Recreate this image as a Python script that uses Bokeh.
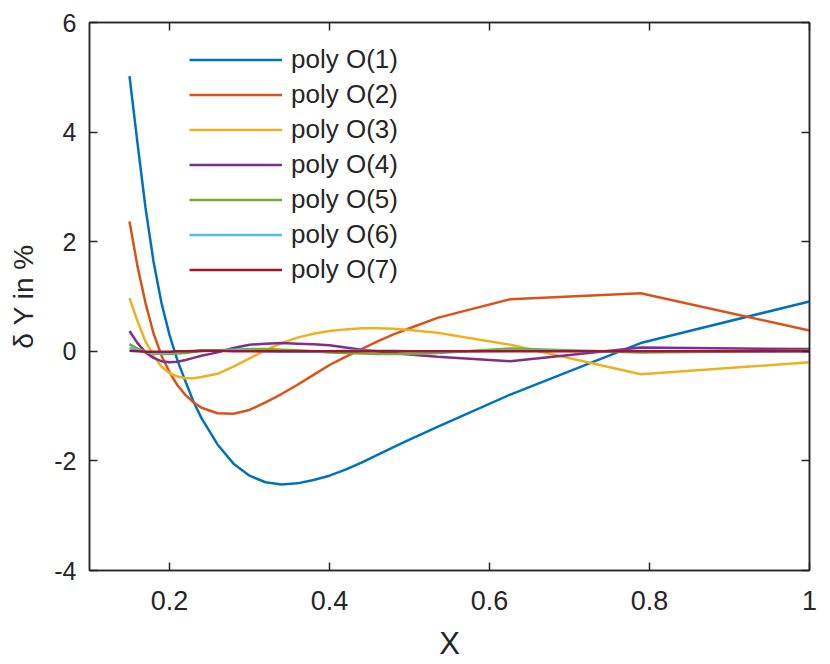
from bokeh.plotting import figure
from bokeh.models import (Legend, LegendItem, LinearAxis, FixedTicker,
                          CustomJSTickFormatter, Range1d)
from bokeh.embed import file_html
from bokeh.resources import INLINE

# ---- data ----
x = [0.15, 0.16, 0.17, 0.18, 0.19, 0.20, 0.21, 0.22, 0.23, 0.24, 0.26, 0.28,
     0.30, 0.32, 0.34, 0.36, 0.38, 0.40, 0.42, 0.44, 0.46, 0.48, 0.50, 0.535,
     0.626, 0.789, 1.0]

poly1 = [5.02, 3.80, 2.62, 1.64, 0.88, 0.30, -0.17, -0.55, -0.92, -1.22, -1.70,
         -2.05, -2.27, -2.39, -2.43, -2.41, -2.35, -2.27, -2.16, -2.03, -1.89,
         -1.75, -1.61, -1.38, -0.79, 0.15, 0.91]
poly2 = [2.37, 1.55, 0.88, 0.33, -0.08, -0.38, -0.62, -0.80, -0.93, -1.03, -1.13,
         -1.14, -1.07, -0.93, -0.78, -0.61, -0.43, -0.25, -0.10, 0.04, 0.18,
         0.31, 0.42, 0.61, 0.95, 1.06, 0.38]
poly3 = [0.97, 0.55, 0.18, -0.08, -0.28, -0.40, -0.46, -0.49, -0.49, -0.47, -0.41,
         -0.28, -0.13, 0.02, 0.15, 0.25, 0.32, 0.37, 0.40, 0.42, 0.42, 0.41,
         0.39, 0.34, 0.12, -0.42, -0.20]
poly4 = [0.37, 0.15, -0.02, -0.12, -0.18, -0.20, -0.19, -0.16, -0.12, -0.08, -0.02,
         0.06, 0.12, 0.14, 0.15, 0.14, 0.13, 0.11, 0.07, 0.03, 0.00, -0.03,
         -0.06, -0.10, -0.18, 0.07, 0.04]
poly5 = [0.13, 0.05, -0.01, -0.04, -0.05, -0.05, -0.04, -0.03, -0.01, 0.00, 0.02,
         0.03, 0.04, 0.04, 0.03, 0.02, 0.00, -0.02, -0.03, -0.04, -0.05, -0.05,
         -0.05, -0.03, 0.05, -0.02, 0.01]
poly6 = [0.07, 0.02, -0.01, -0.03, -0.03, -0.02, -0.01, 0.00, 0.01, 0.02, 0.02,
         0.02, 0.01, 0.00, -0.01, -0.01, -0.01, 0.00, 0.01, 0.01, 0.01, 0.01,
         0.00, -0.01, 0.01, 0.00, 0.00]
poly7 = [0.01, 0.00, -0.01, -0.01, -0.01, -0.01, 0.00, 0.00, 0.00, 0.01, 0.01,
         0.00, 0.00, 0.00, 0.00, 0.00, 0.00, 0.00, 0.00, 0.00, 0.00, 0.00,
         0.00, 0.00, 0.00, 0.00, 0.00]

labels = ["poly O(1)", "poly O(2)", "poly O(3)", "poly O(4)",
          "poly O(5)", "poly O(6)", "poly O(7)"]
series = [poly1, poly2, poly3, poly4, poly5, poly6, poly7]
colors = ["#0072BD", "#D95319", "#EDB120", "#7E2F8E",
          "#77AC30", "#4DBEEE", "#A2142F"]

x_ticks = [0.2, 0.4, 0.6, 0.8, 1.0]
y_ticks = [-4, -2, 0, 2, 4, 6]

FONT = "Liberation Sans"
TXT = "#262626"

p = figure(width=822, height=664, output_backend="svg", toolbar_location=None,
           x_range=Range1d(0.1, 1.0), y_range=Range1d(-4, 6),
           min_border_left=89, min_border_right=13,
           min_border_top=22, min_border_bottom=94,
           x_axis_label="X", y_axis_label="δ Y in %")
p.grid.visible = False
p.outline_line_color = TXT
p.outline_line_width = 1.5
p.background_fill_color = "white"
p.border_fill_color = "white"

fmt = CustomJSTickFormatter(code="return tick.toFixed(1).replace(/\\.0$/, '');")
blank = CustomJSTickFormatter(code="return '';")

renderers = []
for ys, c in zip(series, colors):
    r = p.line(x, ys, line_color=c, line_width=2.5)
    renderers.append(r)

def style_axis(ax, ticks, show_labels):
    ax.ticker = FixedTicker(ticks=ticks)
    ax.formatter = fmt if show_labels else blank
    ax.major_tick_in = 8
    ax.major_tick_out = 0
    ax.minor_tick_in = 0
    ax.minor_tick_out = 0
    ax.axis_line_color = TXT
    ax.axis_line_width = 1.5
    ax.major_tick_line_color = TXT
    ax.major_tick_line_width = 1.5
    ax.major_label_text_color = TXT
    ax.major_label_text_font = FONT
    ax.axis_label_text_font = FONT
    ax.axis_label_text_color = TXT
    ax.axis_label_text_font_style = "normal"
    if not show_labels:
        ax.major_label_standoff = 0

xa = p.xaxis[0]
style_axis(xa, x_ticks, True)
xa.major_label_text_font_size = "27px"
xa.major_label_standoff = 20
xa.axis_label_text_font_size = "31px"
xa.axis_label_standoff = 13

ya = p.yaxis[0]
style_axis(ya, y_ticks, True)
ya.major_label_text_font_size = "25px"
ya.major_label_standoff = 13
ya.axis_label_text_font_size = "28px"
ya.axis_label_standoff = 12

top = LinearAxis()
style_axis(top, x_ticks, False)
p.add_layout(top, "above")
right = LinearAxis()
style_axis(right, y_ticks, False)
p.add_layout(right, "right")

items = [LegendItem(label=l, renderers=[r]) for l, r in zip(labels, renderers)]
legend = Legend(items=items, location=(100, 283))
legend.border_line_color = None
legend.background_fill_color = "white"
legend.background_fill_alpha = 1.0
legend.label_text_font = FONT
legend.label_text_font_size = "26px"
legend.label_text_color = TXT
legend.glyph_width = 93
legend.glyph_height = 35
legend.label_height = 35
legend.label_standoff = 9
legend.spacing = 0
legend.padding = 10
legend.margin = 0
p.add_layout(legend, "center")

open("out.html", "w").write(file_html(p, INLINE))
